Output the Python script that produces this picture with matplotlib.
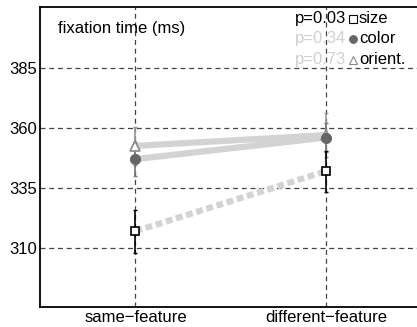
import matplotlib.pyplot as plt
import numpy as np

plt.rcParams['font.family'] = ['Liberation Sans', 'DejaVu Sans']

conds = ["same\u2212feature", "different\u2212feature"]
x = np.arange(len(conds))

size_mean = [317, 342]
size_err = [9, 8.5]
color_mean = [347, 356]
color_err = [7, 6]
orient_mean = [352.5, 357]
orient_err = [8, 9]

p_vals = ["p=0.03", "p=0.34", "p=0.73"]
p_cols = ["black", "#d0d0d0", "#d0d0d0"]
names = ["size", "color", "orient."]

fig = plt.figure(figsize=(4.17, 3.27), dpi=100)
ax = fig.add_axes([0.096, 0.061, 0.915, 0.918])

# connecting lines
ax.plot(x, orient_mean, color="#d3d3d3", lw=4.5, solid_capstyle="butt", zorder=2)
ax.plot(x, color_mean, color="#d3d3d3", lw=4.5, solid_capstyle="butt", zorder=2)
ax.plot(x, size_mean, color="#d3d3d3", lw=4.5, ls=(0, (1.1, 0.6)), dash_capstyle="butt", zorder=2)

# error bars
ax.errorbar(x, orient_mean, yerr=orient_err, fmt="none", ecolor="#999999", elinewidth=1.2, capsize=1.5, zorder=3)
ax.errorbar(x, color_mean, yerr=color_err, fmt="none", ecolor="#777777", elinewidth=1.2, capsize=1.5, zorder=3)
ax.errorbar(x, size_mean, yerr=size_err, fmt="none", ecolor="black", elinewidth=1.2, capsize=1.5, zorder=3)

# markers
ax.plot(x, orient_mean, ls="none", marker="^", ms=7, mfc="white", mec="#888888", mew=1.2, zorder=4)
ax.plot(x, color_mean, ls="none", marker="o", ms=7, mfc="#666666", mec="#666666", zorder=4)
ax.plot(x, size_mean, ls="none", marker="s", ms=6, mfc="white", mec="black", mew=1.2, zorder=5)

ax.set_xlim(-0.5, 1.5)
ax.set_ylim(285.4, 410.4)
ax.set_xticks(x)
ax.set_xticklabels(conds, fontsize=12)
ax.set_yticks([310, 335, 360, 385])
ax.tick_params(axis="both", length=0, labelsize=12, pad=2)
ax.grid(True, ls=(0, (4, 3)), color="#444444", lw=0.9)
ax.set_axisbelow(True)
for s in ["left", "bottom", "top"]:
    ax.spines[s].set_linewidth(1.3)
ax.spines["right"].set_visible(False)

ax.text(0.047, 0.927, "fixation time (ms)", transform=ax.transAxes, fontsize=12, va="center")

# legend built by hand
mk = [("s", "white", "black"), ("o", "#666666", "#666666"), ("^", "white", "#888888")]
rows = [0.96, 0.893, 0.823]
for i in range(3):
    ax.text(0.802, rows[i], p_vals[i], transform=ax.transAxes, fontsize=12, ha="right",
            va="center", color=p_cols[i])
    ax.plot(0.82, rows[i], transform=ax.transAxes, marker=mk[i][0], ms=5.5, mfc=mk[i][1],
            mec=mk[i][2], mew=0.8, clip_on=False)
    ax.text(0.836, rows[i], names[i], transform=ax.transAxes, fontsize=12, va="center")

fig.savefig("out.png", dpi=100)
